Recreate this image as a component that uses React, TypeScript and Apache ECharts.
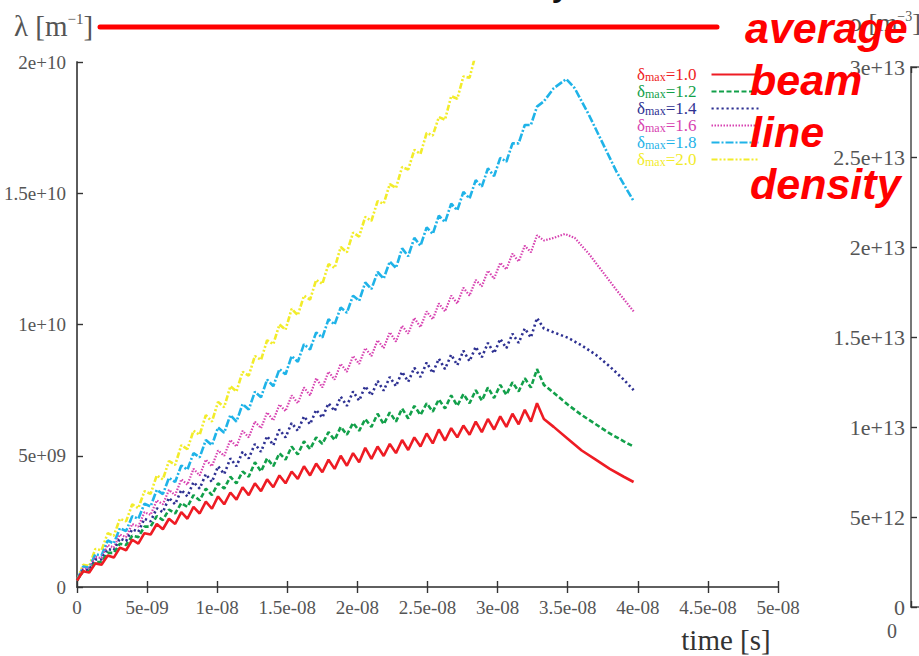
import React, { useEffect, useRef } from "react";
import * as echarts from "echarts";

// time of each bunch passage (ns) and of the following peak (ns)
const bunchTimesNs = [0, 0.875, 1.75, 2.625, 3.5, 4.375, 5.25, 6.125, 7, 7.875, 8.75, 9.625, 10.5, 11.375, 12.25, 13.125, 14, 14.875, 15.75, 16.625, 17.5, 18.375, 19.25, 20.125, 21, 21.875, 22.75, 23.625, 24.5, 25.375, 26.25, 27.125, 28, 28.875, 29.75, 30.625, 31.5, 32.375];
const peakTimesNs = [0.44, 1.31, 2.19, 3.06, 3.94, 4.81, 5.69, 6.56, 7.44, 8.31, 9.19, 10.06, 10.94, 11.81, 12.69, 13.56, 14.44, 15.31, 16.19, 17.06, 17.94, 18.81, 19.69, 20.56, 21.44, 22.31, 23.19, 24.06, 24.94, 25.81, 26.69, 27.56, 28.44, 29.31, 30.19, 31.06, 31.94, 32.81];

// line density, units of 1e9 m^-1
const d10Low = [0.25, 0.55, 0.85, 1.12, 1.4, 1.65, 2.0, 2.2, 2.4, 2.6, 2.8, 2.98, 3.15, 3.33, 3.5, 3.65, 3.8, 3.95, 4.12, 4.25, 4.37, 4.5, 4.62, 4.75, 4.88, 4.99, 5.1, 5.22, 5.35, 5.47, 5.58, 5.7, 5.8, 5.9, 6.0, 6.1, 6.2, 6.3];
const d10Peak = [0.6, 0.9, 1.2, 1.5, 1.8, 2.05, 2.4, 2.6, 2.85, 3.05, 3.25, 3.45, 3.6, 3.8, 3.95, 4.1, 4.25, 4.4, 4.6, 4.7, 4.85, 5.0, 5.1, 5.3, 5.35, 5.45, 5.6, 5.7, 5.85, 6.0, 6.05, 6.15, 6.3, 6.4, 6.5, 6.6, 6.75, 7.0];
const d10TailT = [33.3, 34, 35, 36, 37, 38, 39, 39.7];
const d10TailV = [6.4, 6.1, 5.65, 5.2, 4.85, 4.5, 4.2, 4.0];

const d12Low = [0.25, 0.6, 0.95, 1.3, 1.6, 1.9, 2.3, 2.55, 2.8, 3.05, 3.3, 3.5, 3.75, 3.95, 4.2, 4.4, 4.6, 4.85, 5.05, 5.25, 5.45, 5.6, 5.8, 5.95, 6.1, 6.2, 6.3, 6.42, 6.55, 6.68, 6.8, 6.9, 7.0, 7.1, 7.2, 7.32, 7.45, 7.6];
const d12Peak = [0.6, 0.95, 1.3, 1.65, 1.95, 2.3, 2.7, 2.95, 3.2, 3.5, 3.75, 3.95, 4.2, 4.4, 4.75, 4.9, 5.1, 5.35, 5.55, 5.7, 5.9, 6.1, 6.25, 6.4, 6.6, 6.65, 6.8, 6.9, 7.0, 7.15, 7.3, 7.35, 7.5, 7.6, 7.7, 7.8, 7.95, 8.3];
const d12TailT = [33.3, 34, 35, 36, 37, 38, 39, 39.7];
const d12TailV = [7.7, 7.4, 6.95, 6.55, 6.2, 5.85, 5.55, 5.35];

const d14Low = [0.25, 0.65, 1.05, 1.4, 1.75, 2.1, 2.5, 2.85, 3.15, 3.45, 3.75, 4.0, 4.3, 4.6, 4.9, 5.15, 5.4, 5.7, 5.95, 6.2, 6.45, 6.7, 6.9, 7.1, 7.3, 7.48, 7.65, 7.82, 8.0, 8.15, 8.3, 8.45, 8.6, 8.75, 8.9, 9.1, 9.3, 9.5];
const d14Peak = [0.65, 1.05, 1.45, 1.85, 2.2, 2.6, 3.0, 3.4, 3.7, 4.0, 4.3, 4.6, 4.9, 5.15, 5.45, 5.75, 6.0, 6.25, 6.5, 6.75, 7.0, 7.25, 7.45, 7.65, 7.85, 8.0, 8.2, 8.35, 8.55, 8.7, 8.85, 9.0, 9.15, 9.3, 9.45, 9.65, 9.85, 10.25];
const d14TailT = [33.3, 34, 35, 36, 37, 38, 39, 39.7];
const d14TailV = [9.85, 9.7, 9.5, 9.2, 8.85, 8.4, 7.9, 7.5];

const d16Low = [0.25, 0.7, 1.1, 1.5, 1.9, 2.3, 2.75, 3.15, 3.5, 3.9, 4.25, 4.6, 5.0, 5.35, 5.7, 6.05, 6.35, 6.7, 7.0, 7.3, 7.6, 7.9, 8.2, 8.5, 8.8, 9.1, 9.35, 9.65, 9.9, 10.2, 10.5, 10.8, 11.1, 11.45, 11.75, 12.1, 12.4, 12.75];
const d16Peak = [0.7, 1.15, 1.6, 2.0, 2.4, 2.85, 3.3, 3.7, 4.1, 4.5, 4.85, 5.2, 5.6, 5.95, 6.3, 6.65, 6.95, 7.3, 7.6, 7.95, 8.2, 8.5, 8.8, 9.1, 9.4, 9.7, 9.95, 10.25, 10.5, 10.8, 11.1, 11.4, 11.7, 12.05, 12.35, 12.7, 13.0, 13.4];
const d16TailT = [33.3, 34, 34.8, 35.5, 36.5, 37.5, 38.5, 39.7];
const d16TailV = [13.2, 13.3, 13.45, 13.3, 12.7, 12.0, 11.3, 10.5];

const d18Low = [0.25, 0.73, 1.2, 1.66, 2.13, 2.6, 3.07, 3.54, 4.0, 4.47, 4.94, 5.4, 5.88, 6.3, 6.76, 7.23, 7.65, 8.1, 8.58, 9.05, 9.5, 10.0, 10.45, 10.9, 11.35, 11.75, 12.15, 12.6, 13.0, 13.45, 13.9, 14.35, 14.8, 15.25, 15.65, 16.2, 16.9, 17.6];
const d18Peak = [0.78, 1.25, 1.77, 2.24, 2.7, 3.17, 3.7, 4.16, 4.63, 5.1, 5.6, 6.08, 6.55, 6.97, 7.44, 7.9, 8.3, 8.8, 9.25, 9.7, 10.2, 10.65, 11.1, 11.6, 12.0, 12.4, 12.9, 13.3, 13.7, 14.15, 14.6, 15.05, 15.5, 15.95, 16.35, 16.9, 17.6, 18.3];
const d18TailT = [33.3, 34, 34.9, 35.5, 36.5, 37.5, 38.5, 39.7];
const d18TailV = [18.5, 19.0, 19.35, 19.0, 18.0, 16.9, 15.8, 14.7];

const d20Low = [0.25, 0.8, 1.4, 1.95, 2.5, 3.0, 3.55, 4.1, 4.65, 5.25, 5.8, 6.3, 6.85, 7.45, 8.05, 8.65, 9.25, 9.8, 10.35, 10.95, 11.55, 12.15, 12.75, 13.35, 13.95, 14.6, 15.2, 15.9, 16.5, 17.2, 17.8, 18.6, 19.4, 20.3, 21.3, 22.2];
const d20Peak = [0.85, 1.45, 2.05, 2.6, 3.15, 3.65, 4.25, 4.8, 5.4, 5.95, 6.55, 7.05, 7.65, 8.2, 8.8, 9.4, 10.0, 10.6, 11.1, 11.7, 12.3, 12.95, 13.5, 14.1, 14.7, 15.35, 16.0, 16.65, 17.3, 17.9, 18.7, 19.45, 20.3, 21.2, 22.1, 23.1];
const d20TailT: number[] = [];
const d20TailV: number[] = [];

const seriesNames = ["1.0", "1.2", "1.4", "1.6", "1.8", "2.0"];
const seriesColors = ["#ee1c24", "#12a04a", "#2e3192", "#d742b0", "#1fb3e8", "#f2ec2a"];

const xTicksNs = [0, 5, 10, 15, 20, 25, 30, 35, 40, 45, 50];
const leftTicks = [0, 5e9, 1e10, 1.5e10, 2e10];
const rightTicks = [0, 5e12, 1e13, 1.5e13, 2e13, 2.5e13, 3e13];

function fmtSci(v: number): string {
  if (v === 0) return "0";
  const s = parseFloat(v.toPrecision(4)).toExponential();
  const m = s.match(/^(.*)e([+-])(\d+)$/);
  if (!m) return s;
  const exp = m[3].length < 2 ? "0" + m[3] : m[3];
  return m[1] + "e" + m[2] + exp;
}

function build(low: number[], peak: number[], tailT: number[], tailV: number[]) {
  const out: [number, number][] = [];
  for (let i = 0; i < low.length; i++) {
    out.push([bunchTimesNs[i] * 1e-9, low[i] * 1e9]);
    if (peak[i] !== undefined) out.push([peakTimesNs[i] * 1e-9, peak[i] * 1e9]);
  }
  for (let i = 0; i < tailT.length; i++) out.push([tailT[i] * 1e-9, tailV[i] * 1e9]);
  return out;
}

const seriesData = [
  build(d10Low, d10Peak, d10TailT, d10TailV),
  build(d12Low, d12Peak, d12TailT, d12TailV),
  build(d14Low, d14Peak, d14TailT, d14TailV),
  build(d16Low, d16Peak, d16TailT, d16TailV),
  build(d18Low, d18Peak, d18TailT, d18TailV),
  build(d20Low, d20Peak, d20TailT, d20TailV),
];

const dashes: any[] = ["solid", [5, 2.5], [2.2, 2.8], [1.5, 1.5], [8, 2, 2, 2], [6, 2, 2, 2, 2, 2]];
const widths = [2.6, 2.6, 2.6, 2.2, 2.6, 2.6];

const SERIF = "'Liberation Serif', 'DejaVu Serif', serif";
const SANS = "'Liberation Sans', Arial, sans-serif";
const AX = "#555";

export default function App() {
  const ref = useRef<HTMLDivElement>(null);
  useEffect(() => {
    if (!ref.current) return;
    const chart = echarts.init(ref.current, undefined, { renderer: "svg" });
    const names = seriesNames.map((n) => "δmax=" + n);
    const axisLine = { show: true, lineStyle: { color: AX, width: 1.6 } };
    const tick = { show: true, inside: true, length: 6, lineStyle: { color: "#333", width: 1.4 } };
    const option: any = {
      animation: false,
      backgroundColor: "#fff",
      grid: [
        { left: 77, top: 62, width: 701, height: 525 },
        { left: 911, top: 67, width: 700, height: 540 },
      ],
      legend: {
        orient: "vertical",
        left: 637,
        top: 66,
        align: "right",
        itemWidth: 47,
        itemHeight: 10,
        itemGap: 0,
        padding: 0,
        selectedMode: false,
        itemStyle: { opacity: 0 },
        data: names.map((n, i) => ({ name: n, textStyle: { color: seriesColors[i] } })),
        formatter: (name: string) => "{d|δ}{s|max}{d|=" + name.split("=")[1] + "}",
        textStyle: {
          fontFamily: SERIF,
          padding: [0, 10, 0, 0],
          rich: {
            d: { fontFamily: SERIF, fontSize: 17, lineHeight: 16.5 },
            s: { fontFamily: SERIF, fontSize: 12, lineHeight: 8, verticalAlign: "bottom" },
          },
        },
      },
      xAxis: [
        {
          gridIndex: 0, type: "value", position: "bottom", min: xTicksNs[0] * 1e-9, max: xTicksNs[xTicksNs.length - 1] * 1e-9, interval: 5e-9,
          axisLine, axisTick: tick, splitLine: { show: false },
          axisLabel: { formatter: fmtSci, color: AX, fontFamily: SERIF, fontSize: 19, margin: 11, showMinLabel: true, showMaxLabel: true },
        },
        {
          gridIndex: 0, type: "value", position: "top", min: 0, max: 5e-8, interval: 5e-9,
          axisLine, axisTick: tick, splitLine: { show: false }, axisLabel: { show: false },
        },
        {
          gridIndex: 1, type: "value", position: "bottom", min: 0, max: 5e-8, interval: 5e-9,
          axisLine, axisTick: tick, splitLine: { show: false },
          axisLabel: { formatter: (v: number) => (v === 0 ? "0" : ""), color: AX, fontFamily: SERIF, fontSize: 20, margin: 14, align: "right", padding: [0, 14, 0, 0] },
        },
        {
          gridIndex: 1, type: "value", position: "top", min: 0, max: 5e-8, interval: 5e-9,
          axisLine, axisTick: tick, splitLine: { show: false }, axisLabel: { show: false },
        },
      ],
      yAxis: [
        {
          gridIndex: 0, type: "value", position: "left", min: leftTicks[0], max: leftTicks[leftTicks.length - 1], interval: 5e9,
          axisLine, axisTick: tick, splitLine: { show: false },
          axisLabel: { formatter: fmtSci, color: AX, fontFamily: SERIF, fontSize: 19, margin: 11, showMinLabel: true, showMaxLabel: true },
        },
        {
          gridIndex: 0, type: "value", position: "right", min: 0, max: 2e10, interval: 5e9,
          axisLine, axisTick: { show: false }, splitLine: { show: false }, axisLabel: { show: false },
        },
        {
          gridIndex: 1, type: "value", position: "left", min: rightTicks[0], max: rightTicks[rightTicks.length - 1], interval: 5e12,
          axisLine, axisTick: tick, splitLine: { show: false },
          axisLabel: { formatter: fmtSci, color: AX, fontFamily: SERIF, fontSize: 22, margin: 6, showMinLabel: true, showMaxLabel: true },
        },
      ],
      series: seriesData.map((d, i) => ({
        name: names[i],
        type: "line",
        xAxisIndex: 0,
        yAxisIndex: 0,
        data: d,
        showSymbol: false,
        symbol: "none",
        clip: true,
        z: 10 - i,
        itemStyle: { color: seriesColors[i] },
        lineStyle: { color: seriesColors[i], width: widths[i], type: dashes[i] },
      })),
      graphic: [
        {
          type: "text", x: 572, y: -19, z: 50,
          style: { text: "Electron cloud line density", fill: "#111", font: "40px " + SANS, textAlign: "right", textVerticalAlign: "middle" },
        },
        {
          type: "text", x: 14, y: 26, z: 50,
          style: {
            text: "λ [m{sup|−1}]", fill: AX, font: "29px " + SERIF, textVerticalAlign: "middle",
            rich: { sup: { fontSize: 15, fontFamily: SERIF, fill: AX, verticalAlign: "top", lineHeight: 26 } },
          },
        },
        {
          type: "text", x: 849, y: 22, z: 50,
          style: {
            text: "ρ [m{sup|−3}]", fill: AX, font: "26px " + SERIF, textVerticalAlign: "middle",
            rich: { sup: { fontSize: 14, fontFamily: SERIF, fill: AX, verticalAlign: "top", lineHeight: 24 } },
          },
        },
        {
          type: "line", z: 60,
          shape: { x1: 100, y1: 27, x2: 717, y2: 27 },
          style: { stroke: "#ff0000", lineWidth: 5, lineCap: "round" },
        },
        ...["average", "beam", "line", "density"].map((w, i) => ({
          type: "text", x: i === 0 ? 745 : 750, y: 28 + i * 52, z: 60,
          style: { text: w, fill: "#ff0000", font: "italic bold 43px " + SANS, textVerticalAlign: "middle" },
        })),
        {
          type: "text", x: 726, y: 640, z: 50,
          style: { text: "time [s]", fill: "#333", font: "29px " + SERIF, textAlign: "center", textVerticalAlign: "middle" },
        },
      ],
    };
    chart.setOption(option);
    return () => chart.dispose();
  }, []);
  return <div ref={ref} style={{ width: 919, height: 656, position: "fixed", left: 0, top: 0 }} />;
}
